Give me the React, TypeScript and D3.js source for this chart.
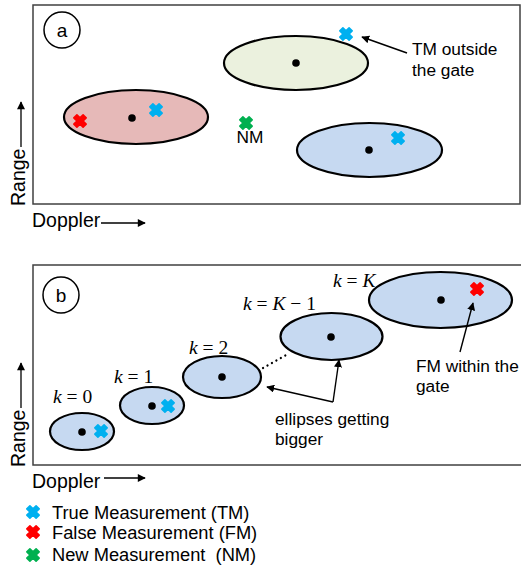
import React from "react";
import * as d3 from "d3";

const W = 521;
const H = 568;

// Marker categories
const markerColors: Record<string, string> = { TM: "#00B0F0", FM: "#FF0000", NM: "#00B050" };
const legendKeys = ["TM", "FM", "NM"];
const legendLabels = ["True Measurement (TM)", "False Measurement (FM)", "New Measurement \u00A0(NM)"];

// Panel a (doppler, range) in panel units
const gatesA = [
  { cx: 103, cy: 87, rx: 72, ry: 27, fill: "#E6B9B8" },
  { cx: 263, cy: 141, rx: 72, ry: 27, fill: "#EBF1DE" },
  { cx: 336.5, cy: 54, rx: 72.5, ry: 27, fill: "#C6D9F1" },
];
const predsA = [
  { x: 99, y: 86 },
  { x: 263, y: 141 },
  { x: 336, y: 54 },
];
const measA = [
  { x: 123, y: 94, type: "TM" },
  { x: 47, y: 83, type: "FM" },
  { x: 213, y: 81, type: "NM" },
  { x: 313, y: 170, type: "TM" },
  { x: 365, y: 66, type: "TM" },
];
const textsA = [
  { x: 217, y: 61, t: "NM", anchor: "middle" },
  { x: 379, y: 149, t: "TM outside", anchor: "start" },
  { x: 379, y: 128, t: "the gate", anchor: "start" },
];
const arrowsA = [[{ x: 374, y: 151 }, { x: 329, y: 167 }]];

// Panel b
const gatesB = [
  { cx: 49, cy: 33.5, rx: 32, ry: 18.5, fill: "#C6D9F1" },
  { cx: 119, cy: 59.5, rx: 32, ry: 18.5, fill: "#C6D9F1" },
  { cx: 189, cy: 88, rx: 39, ry: 21, fill: "#C6D9F1" },
  { cx: 298.5, cy: 128.5, rx: 51, ry: 23.5, fill: "#C6D9F1" },
  { cx: 407.5, cy: 165, rx: 71.5, ry: 28, fill: "#C6D9F1" },
];
const predsB = [
  { x: 49, y: 33 },
  { x: 119, y: 59 },
  { x: 189, y: 88 },
  { x: 298, y: 128 },
  { x: 408, y: 165 },
];
const measB = [
  { x: 68, y: 34, type: "TM" },
  { x: 135, y: 59, type: "TM" },
  { x: 444, y: 176, type: "FM" },
];
const kLabels = [
  { x: 20, y: 62, rhs: "0" },
  { x: 81, y: 82, rhs: "1" },
  { x: 156, y: 111, rhs: "2" },
  { x: 210, y: 155, rhs: "K − 1" },
  { x: 300, y: 178, rhs: "K" },
];
const textsB = [
  { x: 242, y: 40, t: "ellipses getting" },
  { x: 242, y: 20, t: "bigger" },
  { x: 383, y: 93, t: "FM within the" },
  { x: 383, y: 73, t: "gate" },
];
const dotted = [{ x: 230, y: 97 }, { x: 255, y: 111 }];
const arrowsB = [
  [{ x: 300, y: 63 }, { x: 234, y: 78 }],
  [{ x: 300, y: 63 }, { x: 306, y: 105 }],
  [{ x: 427, y: 113 }, { x: 440, y: 162 }],
];

const SANS = "'Liberation Sans', Arial, sans-serif";
const SERIF = "'Liberation Serif', 'DejaVu Serif', serif";

const xA = d3.scaleLinear().domain([0, 487]).range([33, 520]);
const yA = d3.scaleLinear().domain([0, 199]).range([204, 5]);
const xB = d3.scaleLinear().domain([0, 487]).range([33, 520]);
const yB = d3.scaleLinear().domain([0, 200]).range([465, 265]);

const crossPath = d3.symbol().type(d3.symbolCross).size(95)() as string;

function Marker({ x, y, type }: { x: number; y: number; type: string }) {
  const c = markerColors[type];
  return (
    <path
      d={crossPath}
      transform={`translate(${x},${y}) rotate(45)`}
      fill={c}
      stroke={c}
      strokeWidth={1.6}
      strokeLinejoin="round"
    />
  );
}

function AxisLabels({ bottom, dy }: { bottom: number; dy: number }) {
  return (
    <g fontFamily={SANS} fontSize={19.5} fill="#000">
      <text transform={`translate(25,${bottom + 2}) rotate(-90)`}>Range</text>
      <line x1={21} x2={21} y1={bottom - 57} y2={bottom - 102} stroke="#000" strokeWidth={1.3} markerEnd="url(#ah3)" />
      <text x={32} y={bottom + 23}>Doppler</text>
      <line x1={dy > 15 ? 101 : 104} x2={145} y1={bottom + dy} y2={bottom + dy} stroke="#000" strokeWidth={1.3} markerEnd="url(#ah3)" />
    </g>
  );
}

export default function App() {
  const line = d3.line<{ x: number; y: number }>();
  return (
    <svg width={W} height={H} style={{ position: "absolute", left: 0, top: 0, background: "#fff" }}>
      <defs>
        <marker id="ah2" viewBox="0 0 10 10" refX={9} refY={5} markerWidth={8} markerHeight={8} markerUnits="userSpaceOnUse" orient="auto">
          <path d="M0,0 L10,5 L0,10 z" fill="#000" />
        </marker>
        <marker id="ah3" viewBox="0 0 10 10" refX={9} refY={5} markerWidth={9} markerHeight={8} markerUnits="userSpaceOnUse" orient="auto">
          <path d="M0,0 L10,5 L0,10 z" fill="#000" />
        </marker>
      </defs>

      {/* Panel a */}
      <rect x={33} y={5} width={487} height={199} fill="#fff" stroke="#404040" strokeWidth={1.5} />
      <circle cx={62} cy={30} r={18} fill="#fff" stroke="#000" strokeWidth={1.5} />
      <text x={62} y={36.5} textAnchor="middle" fontFamily={SANS} fontSize={19}>a</text>
      {gatesA.map((g, i) => (
        <ellipse key={i} cx={xA(g.cx)} cy={yA(g.cy)} rx={g.rx} ry={g.ry} fill={g.fill} stroke="#000" strokeWidth={2.2} />
      ))}
      {predsA.map((p, i) => (
        <circle key={i} cx={xA(p.x)} cy={yA(p.y)} r={3.8} fill="#000" />
      ))}
      {measA.map((m, i) => (
        <Marker key={i} x={xA(m.x)} y={yA(m.y)} type={m.type} />
      ))}
      {textsA.map((t, i) => (
        <text key={i} x={xA(t.x)} y={yA(t.y)} textAnchor={t.anchor as any} fontFamily={SANS} fontSize={17.3}>{t.t}</text>
      ))}
      {arrowsA.map((a, i) => (
        <path key={i} d={line(a.map((p) => [xA(p.x), yA(p.y)] as [number, number])) as string} stroke="#000" strokeWidth={1.4} fill="none" markerEnd="url(#ah2)" />
      ))}
      <AxisLabels bottom={204} dy={19} />

      {/* Panel b */}
      <rect x={33} y={265} width={492} height={200} fill="#fff" stroke="#404040" strokeWidth={1.5} />
      <circle cx={61} cy={295} r={18} fill="#fff" stroke="#000" strokeWidth={1.5} />
      <text x={61} y={301.5} textAnchor="middle" fontFamily={SANS} fontSize={19}>b</text>
      {gatesB.map((g, i) => (
        <ellipse key={i} cx={xB(g.cx)} cy={yB(g.cy)} rx={g.rx} ry={g.ry} fill={g.fill} stroke="#000" strokeWidth={2.2} />
      ))}
      {predsB.map((p, i) => (
        <circle key={i} cx={xB(p.x)} cy={yB(p.y)} r={3.8} fill="#000" />
      ))}
      {measB.map((m, i) => (
        <Marker key={i} x={xB(m.x)} y={yB(m.y)} type={m.type} />
      ))}
      <path d={line(dotted.map((p) => [xB(p.x), yB(p.y)] as [number, number])) as string} stroke="#000" strokeWidth={2.2} strokeDasharray="0.1 5" strokeLinecap="round" fill="none" />
      {kLabels.map((k, i) => (
        <text key={i} x={xB(k.x)} y={yB(k.y)} fontFamily={SERIF} fontSize={19.5}>
          <tspan fontStyle="italic">k</tspan>
          <tspan> = </tspan>
          {k.rhs.split(" ").map((part, j) =>
            part === "K" ? (
              <tspan key={j} fontStyle="italic">{j > 0 ? " K" : "K"}</tspan>
            ) : (
              <tspan key={j}>{j > 0 ? " " + part : part}</tspan>
            )
          )}
        </text>
      ))}
      {textsB.map((t, i) => (
        <text key={i} x={xB(t.x)} y={yB(t.y)} fontFamily={SANS} fontSize={17.3}>{t.t}</text>
      ))}
      {arrowsB.map((a, i) => (
        <path key={i} d={line(a.map((p) => [xB(p.x), yB(p.y)] as [number, number])) as string} stroke="#000" strokeWidth={1.4} fill="none" markerEnd="url(#ah2)" />
      ))}
      <AxisLabels bottom={465} dy={13} />

      {/* Legend */}
      {legendKeys.map((k, i) => (
        <g key={k}>
          <Marker x={33} y={[512, 532, 555][i]} type={k} />
          <text x={52} y={[519, 539, 561][i]} fontFamily={SANS} fontSize={18.3}>{legendLabels[i]}</text>
        </g>
      ))}
    </svg>
  );
}
